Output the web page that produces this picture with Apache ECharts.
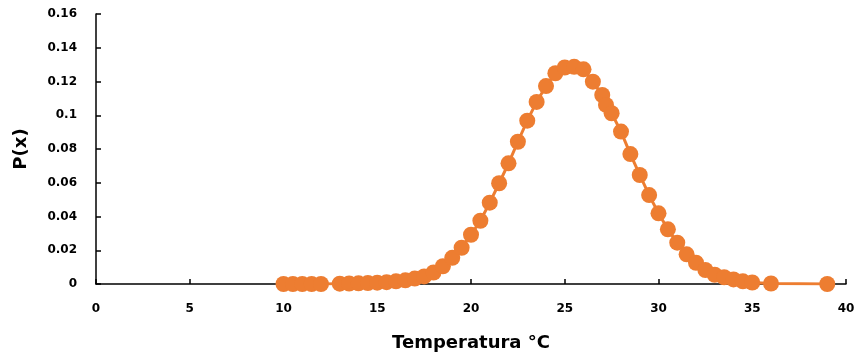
<!DOCTYPE html>
<html>
<head>
<meta charset="utf-8">
<title>P(x) vs Temperatura</title>
<script src="https://cdn.jsdelivr.net/npm/echarts@6/dist/echarts.min.js"></script>
<style>
  html, body { margin: 0; padding: 0; background: #fff; }
  #chart { width: 860px; height: 358px; }
</style>
</head>
<body>
<div id="chart"></div>
<script>
// temperatura (x) y probabilidad P(x)
const temps = [10, 10.5, 11, 11.5, 12, 13, 13.5, 14, 14.5, 15, 15.5, 16, 16.5, 17, 17.5, 18, 18.5, 19, 19.5, 20,
  20.5, 21, 21.5, 22, 22.5, 23, 23.5, 24, 24.5, 25, 25.5, 26, 26.5, 27, 27.2, 27.5, 28, 28.5, 29, 29.5,
  30, 30.5, 31, 31.5, 32, 32.5, 33, 33.5, 34, 34.5, 35, 36, 39]
const probs = [0, 0, 0, 0, 0, 0.0002, 0.0003, 0.0004, 0.0006, 0.0008, 0.0011, 0.0016, 0.0022, 0.0032, 0.0045, 0.0068, 0.0105, 0.0155, 0.0215, 0.0292,
  0.0375, 0.0482, 0.0597, 0.0715, 0.0843, 0.0968, 0.1079, 0.1173, 0.1249, 0.1283, 0.1287, 0.1272, 0.1199, 0.112, 0.1061, 0.1012, 0.0903, 0.077, 0.0646, 0.0527,
  0.0419, 0.0324, 0.0245, 0.0176, 0.0126, 0.0083, 0.0055, 0.004, 0.0027, 0.0016, 0.0009, 0.0003, 0]

const font = 'DejaVu Sans'
const orange = '#ED7D31'

const myChart = echarts.init(document.getElementById('chart'))
const option = {
  animation: false,
  grid: {
    left: 96,
    right: 14,
    top: 14,
    bottom: 74
  },
  xAxis: {
    type: 'value',
    min: 0,
    max: 40,
    interval: 5,
    name: 'Temperatura °C',
    nameLocation: 'middle',
    nameGap: 50,
    nameTextStyle: { color: '#000', fontFamily: font, fontWeight: 'bold', fontSize: 18 },
    axisLine: { lineStyle: { color: '#000', width: 1.5 } },
    axisTick: { show: true, inside: true, length: 5, lineStyle: { color: '#000', width: 1.5 } },
    axisLabel: { color: '#000', fontFamily: font, fontWeight: 'bold', fontSize: 12, margin: 19 },
    splitLine: { show: false }
  },
  yAxis: {
    type: 'value',
    min: 0,
    max: 0.16,
    interval: 0.02,
    name: 'P(x)',
    nameLocation: 'middle',
    nameGap: 66,
    nameTextStyle: { color: '#000', fontFamily: font, fontWeight: 'bold', fontSize: 18 },
    axisLine: { show: true, lineStyle: { color: '#000', width: 1.5 } },
    axisTick: { show: true, inside: true, length: 5, lineStyle: { color: '#000', width: 1.5 } },
    axisLabel: {
      color: '#000', fontFamily: font, fontWeight: 'bold', fontSize: 12, margin: 19,
      formatter: (v) => String(+v.toFixed(2))
    },
    splitLine: { show: false }
  },
  series: [{
    type: 'line',
    data: temps.map((t, i) => [t, probs[i]]),
    symbol: 'circle',
    symbolSize: 16,
    lineStyle: { color: orange, width: 3 },
    itemStyle: { color: orange }
  }]
}
myChart.setOption(option)
</script>
</body>
</html>
